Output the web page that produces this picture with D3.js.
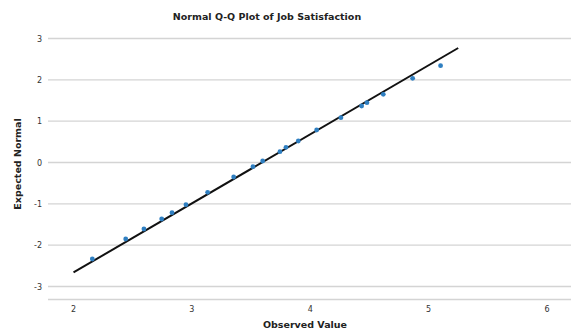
<!DOCTYPE html>
<html>
<head>
<meta charset="utf-8">
<script src="https://cdn.jsdelivr.net/npm/d3@7"></script>
<style>
  body { margin: 0; background: #fff; }
  svg { display: block; font-family: "DejaVu Sans", sans-serif; }
</style>
</head>
<body>
<svg width="571" height="334"></svg>
<script>
// observed values and their expected normal quantiles
const observed = [2.159, 2.441, 2.595, 2.745, 2.832, 2.950, 3.133, 3.353, 3.516, 3.598,
                  3.744, 3.795, 3.899, 4.054, 4.259, 4.434, 4.479, 4.617, 4.865, 5.101];
const expected = [-2.335, -1.851, -1.609, -1.367, -1.215, -1.021, -0.721, -0.351, -0.102, 0.036,
                  0.261, 0.368, 0.520, 0.786, 1.084, 1.367, 1.447, 1.650, 2.037, 2.342];
// reference line end points
const lineX = [2.0, 5.25];
const lineY = [-2.66, 2.77];
const xTicks = [2, 3, 4, 5, 6];
const yTicks = [3, 2, 1, 0, -1, -2, -3];

const svg = d3.select("svg");

const x = d3.scaleLinear().domain([2, 6]).range([73.5, 547]);
const y = d3.scaleLinear().domain([-3, 3]).range([286.5, 38.5]);
const left = 48, right = 571, bottom = 299.5;

// horizontal grid lines
svg.append("g")
   .selectAll("line")
   .data(yTicks)
   .enter()
   .append("line")
   .attr("x1", left)
   .attr("x2", right)
   .attr("y1", d => y(d))
   .attr("y2", d => y(d))
   .attr("stroke", "#d4d4d4")
   .attr("stroke-width", 1.3);

// x baseline
svg.append("line")
   .attr("x1", left).attr("x2", right)
   .attr("y1", bottom).attr("y2", bottom)
   .attr("stroke", "#d4d4d4")
   .attr("stroke-width", 1.3);

// y tick labels
svg.append("g")
   .selectAll("text")
   .data(yTicks)
   .enter()
   .append("text")
   .attr("x", 42)
   .attr("y", d => y(d) + 3)
   .attr("text-anchor", "end")
   .attr("font-size", 8)
   .attr("fill", "#333")
   .text(d => d);

// x tick labels
svg.append("g")
   .selectAll("text")
   .data(xTicks)
   .enter()
   .append("text")
   .attr("x", d => x(d))
   .attr("y", 312)
   .attr("text-anchor", "middle")
   .attr("font-size", 8)
   .attr("fill", "#333")
   .text(d => d);

// reference line
svg.append("line")
   .attr("x1", x(lineX[0])).attr("y1", y(lineY[0]))
   .attr("x2", x(lineX[1])).attr("y2", y(lineY[1]))
   .attr("stroke", "#111")
   .attr("stroke-width", 2);

// points
svg.append("g")
   .selectAll("circle")
   .data(observed)
   .enter()
   .append("circle")
   .attr("cx", d => x(d))
   .attr("cy", (d, i) => y(expected[i]))
   .attr("r", 2.4)
   .attr("fill", "#2f7fc1");

// title and axis titles
svg.append("text")
   .attr("x", 267).attr("y", 20)
   .attr("text-anchor", "middle")
   .attr("font-size", 9.5)
   .attr("font-weight", "bold")
   .attr("fill", "#222")
   .text("Normal Q-Q Plot of Job Satisfaction");

svg.append("text")
   .attr("x", 305).attr("y", 328)
   .attr("text-anchor", "middle")
   .attr("font-size", 9.5)
   .attr("font-weight", "bold")
   .attr("fill", "#222")
   .text("Observed Value");

svg.append("text")
   .attr("transform", "translate(21,164) rotate(-90)")
   .attr("text-anchor", "middle")
   .attr("font-size", 9.5)
   .attr("font-weight", "bold")
   .attr("fill", "#222")
   .text("Expected Normal");
</script>
</body>
</html>
